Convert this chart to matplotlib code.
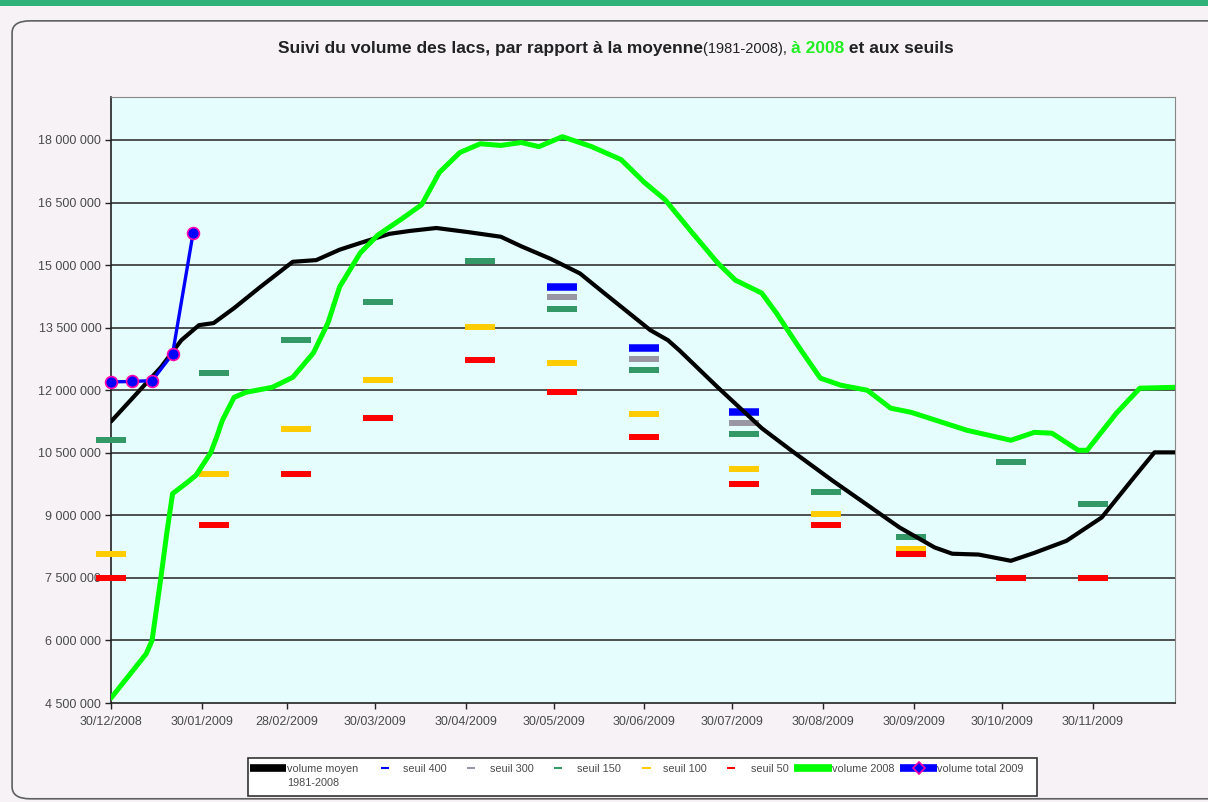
import numpy as np
import pandas as pd
import matplotlib
matplotlib.use('Agg')
import matplotlib.pyplot as plt
from matplotlib.lines import Line2D
from matplotlib.patches import FancyBboxPatch, Rectangle
from matplotlib.ticker import FuncFormatter

plt.rcParams['font.family'] = ['Liberation Sans', 'DejaVu Sans']

START = pd.Timestamp('2008-12-30')
nan = np.nan

# volume moyen 1981-2008 : jours depuis le 30/12/2008, volume en millions de m3
moyen_days = [0, 17, 24, 30, 35, 42, 51, 62, 70, 78, 85, 95, 102, 111, 122, 133,
              140, 150, 160, 167, 184, 190, 194, 207, 222, 232, 246, 269, 281,
              287, 296, 307, 315, 326, 338, 349, 356, 363]
moyen_vol = [11.25, 12.55, 13.2, 13.56, 13.61, 13.97, 14.48, 15.08, 15.12, 15.37,
             15.53, 15.75, 15.82, 15.89, 15.79, 15.68, 15.45, 15.15, 14.8, 14.4,
             13.44, 13.2, 12.95, 12.07, 11.09, 10.56, 9.84, 8.71, 8.23, 8.08, 8.06,
             7.91, 8.1, 8.39, 8.95, 9.91, 10.51, 10.51]

# volume 2008
v2008_days = [0, 12, 14, 17, 19, 21, 26, 29, 34, 36, 38, 42, 46, 55, 62, 69, 74,
              78, 85, 91, 99, 106, 112, 119, 126, 133, 140, 146, 154, 164, 174,
              182, 189, 198, 207, 213, 222, 227, 235, 242, 249, 258, 266, 273,
              292, 307, 315, 321, 330, 333, 343, 351, 363]
v2008_vol = [4.62, 5.68, 6.0, 7.5, 8.56, 9.52, 9.79, 9.96, 10.5, 10.87, 11.28,
             11.83, 11.95, 12.07, 12.31, 12.89, 13.61, 14.48, 15.29, 15.72, 16.1,
             16.45, 17.22, 17.7, 17.91, 17.87, 17.94, 17.84, 18.08, 17.84, 17.53,
             16.98, 16.57, 15.8, 15.05, 14.64, 14.33, 13.85, 13.0, 12.29, 12.12,
             12.0, 11.57, 11.47, 11.04, 10.8, 10.99, 10.97, 10.56, 10.56, 11.45,
             12.05, 12.07]

# volume total 2009
v2009_days = [0, 7, 14, 21, 28]
v2009_vol = [12.2, 12.21, 12.23, 12.87, 15.77]

# seuils
seuil_days = [0, 35, 63, 91, 126, 154, 182, 216, 244, 273, 307, 335]
seuil_400 = [nan, nan, nan, nan, nan, 14.48, 13.01, 11.49, nan, nan, nan, nan]
seuil_300 = [nan, nan, nan, nan, nan, 14.24, 12.75, 11.21, nan, nan, nan, nan]
seuil_150 = [10.80, 12.41, 13.20, 14.12, 15.10, 13.95, 12.48, 10.94, 9.57, 8.47, 10.27, 9.28]
seuil_100 = [8.08, 10.0, 11.06, 12.24, 13.51, 12.65, 11.42, 10.12, 9.04, 8.20, nan, nan]
seuil_50 = [7.5, 8.78, 10.0, 11.33, 12.72, 11.95, 10.89, 9.74, 8.78, 8.08, 7.5, 7.5]

tick_dates = ['30/12/2008', '30/01/2009', '28/02/2009', '30/03/2009', '30/04/2009',
              '30/05/2009', '30/06/2009', '30/07/2009', '30/08/2009', '30/09/2009',
              '30/10/2009', '30/11/2009']
y_ticks = [4500000, 6000000, 7500000, 9000000, 10500000, 12000000, 13500000,
           15000000, 16500000, 18000000]

legend_labels = ['volume moyen\n1981-2008', 'seuil 400', 'seuil 300', 'seuil 150',
                 'seuil 100', 'seuil 50', 'volume 2008', 'volume total 2009']
legend_colors = ['black', '#0000ff', '#9a96a4', '#339966', '#ffcc00', '#ff0000',
                 '#00ff00', '#0000ff']


def to_dates(days):
    return START + pd.to_timedelta(days, unit='D')


def mvals(v):
    return np.array(v, dtype=float) * 1e6


fig = plt.figure(figsize=(12.08, 8.02), dpi=100)
fig.patch.set_facecolor('#f6f2f6')
W, H = 1208.0, 802.0

# cadre du graphique
fig.patches.append(Rectangle((0, 0.992), 1, 0.008, transform=fig.transFigure,
                             facecolor='#2fb37a', edgecolor='none'))
fig.patches.append(FancyBboxPatch((0.010, 0.004), 1.1, 0.97, transform=fig.transFigure,
                                  boxstyle='round,pad=0,rounding_size=0.015',
                                  facecolor='none', edgecolor='#606060', linewidth=1.2))

ax = fig.add_axes([0.0919, 0.1234, 0.8808, 0.7556])
ax.set_facecolor('#e6fdfd')

for y in y_ticks[1:]:
    ax.axhline(y, color='#333333', lw=1.2, zorder=1)

seuils = [
    (seuil_400, legend_colors[1], 7.5),
    (seuil_300, legend_colors[2], 6),
    (seuil_150, legend_colors[3], 6),
    (seuil_100, legend_colors[4], 6),
    (seuil_50, legend_colors[5], 6),
]
for vals, col, h in seuils:
    ax.plot(to_dates(seuil_days), mvals(vals), ls='none', marker='_', ms=22,
            mew=h * 0.72, color=col, zorder=3, clip_on=False)

ax.plot(to_dates(moyen_days), mvals(moyen_vol), color='black', lw=3, zorder=4,
        solid_joinstyle='round', solid_capstyle='round')
ax.plot(to_dates(v2008_days), mvals(v2008_vol), color='#00ff00', lw=3.6, zorder=4,
        solid_joinstyle='round', solid_capstyle='round')
ax.plot(to_dates(v2009_days), mvals(v2009_vol), color='#0000ff', lw=2.4, zorder=5,
        marker='o', ms=8.5, mfc='#0000ff', mec='#ff00aa', mew=1.2, clip_on=False)

ax.set_xlim(START, START + pd.Timedelta(days=363))
ax.set_ylim(4500000, 19030000)
ax.set_yticks(y_ticks)
ax.yaxis.set_major_formatter(FuncFormatter(lambda v, p: f'{v:,.0f}'.replace(',', ' ')))
ax.set_xticks(pd.to_datetime(tick_dates, format='%d/%m/%Y'))
ax.set_xticklabels(tick_dates)
ax.tick_params(axis='both', labelsize=9, labelcolor='#4a4a4a', color='#222222',
               length=4, width=1)
ax.tick_params(axis='y', pad=3)
ax.tick_params(axis='x', pad=5)
for s in ['top', 'right']:
    ax.spines[s].set_color('#888888')
for s in ['left', 'bottom']:
    ax.spines[s].set_color('#222222')
    ax.spines[s].set_linewidth(1.2)

# titre en plusieurs morceaux
pieces = [
    ('Suivi du volume des lacs, par rapport à la moyenne', 'bold', 12.5, '#222222'),
    ('(1981-2008), ', 'normal', 10.5, '#222222'),
    ('à 2008', 'bold', 12.5, '#22ee22'),
    (' et aux seuils', 'bold', 12.5, '#222222'),
]
renderer = fig.canvas.get_renderer()
texts = []
for s, w, fs, c in pieces:
    t = fig.text(0, 1 - 53 / H, s, fontweight=w, fontsize=fs, color=c,
                 ha='left', va='baseline')
    texts.append(t)
widths = [t.get_window_extent(renderer).width for t in texts]
x = 616 - sum(widths) / 2
for t, wd in zip(texts, widths):
    t.set_x(x / W)
    x += wd

# légende dessinée à la main (positions en pixels)
fig.patches.append(Rectangle((248 / W, 1 - 796 / H), 789 / W, 38 / H,
                             transform=fig.transFigure, facecolor='white',
                             edgecolor='#333333', linewidth=1.2))
handle_x = [(250, 286), (381, 389), (467, 475), (554, 562), (642, 651), (727, 735),
            (794, 832), (900, 937)]
text_x = [287, 403, 490, 577, 663, 751, 832, 937]
for i, (lab, col) in enumerate(zip(legend_labels, legend_colors)):
    x0, x1 = handle_x[i]
    thick = i in (0, 6, 7)
    yc = 1 - 768 / H
    fig.add_artist(Line2D([x0 / W, x1 / W], [yc, yc], color=col,
                          lw=5.5 if thick else 1.5, transform=fig.transFigure,
                          solid_capstyle='butt'))
    if i == 7:
        fig.add_artist(Line2D([(x0 + x1) / 2 / W], [yc], marker='D', ms=6,
                              mfc='#0000ff', mec='#ff00aa', mew=1.2, ls='none',
                              transform=fig.transFigure))
    fig.text(text_x[i] / W, 1 - 764 / H, lab, fontsize=7.8, color='#4a4a4a',
             ha='left', va='top', linespacing=1.45)

fig.savefig('out.png', dpi=100, facecolor=fig.get_facecolor())
